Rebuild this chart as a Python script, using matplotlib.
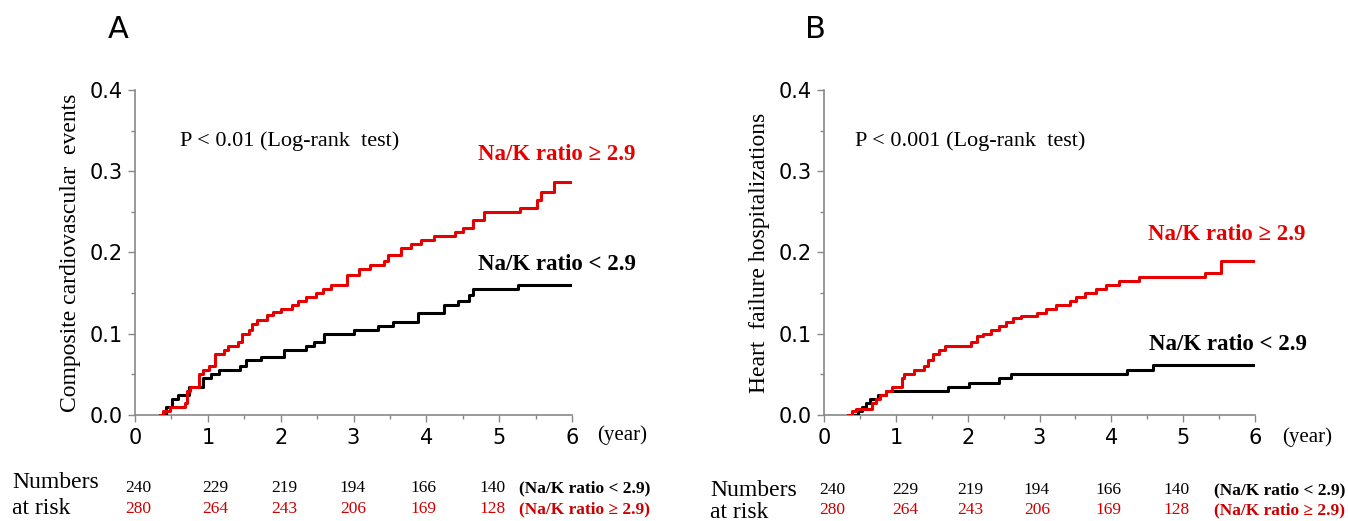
import matplotlib
matplotlib.use("Agg")
import matplotlib.pyplot as plt
from matplotlib.ticker import MultipleLocator

# ---- data ----
a_red_t = [0.34, 0.38, 0.48, 0.68, 0.71, 0.76, 0.88, 0.93, 1.02, 1.10, 1.22, 1.28, 1.41, 1.47, 1.56, 1.61, 1.67,
           1.81, 1.90, 2.00, 2.15, 2.24, 2.35, 2.49, 2.58, 2.69, 2.91, 3.08, 3.23, 3.42, 3.48, 3.65, 3.79, 3.93,
           4.10, 4.39, 4.50, 4.64, 4.79, 5.29, 5.52, 5.58, 5.75, 5.97]
a_red_v = [0.000, 0.005, 0.010, 0.015, 0.030, 0.035, 0.050, 0.055, 0.060, 0.075, 0.080, 0.085, 0.090, 0.100,
           0.105, 0.112, 0.117, 0.123, 0.127, 0.130, 0.135, 0.140, 0.145, 0.150, 0.155, 0.160, 0.172, 0.180,
           0.185, 0.190, 0.197, 0.205, 0.210, 0.215, 0.220, 0.225, 0.230, 0.240, 0.250, 0.255, 0.265, 0.275,
           0.287, 0.287]
a_blk_t = [0.37, 0.42, 0.51, 0.59, 0.74, 0.93, 1.05, 1.16, 1.44, 1.53, 1.73, 2.04, 2.35, 2.46, 2.60, 3.00, 3.34,
           3.54, 3.88, 4.24, 4.44, 4.58, 4.64, 5.26, 5.97]
a_blk_v = [0.000, 0.010, 0.020, 0.025, 0.035, 0.045, 0.050, 0.055, 0.060, 0.068, 0.072, 0.080, 0.085, 0.090,
           0.100, 0.105, 0.110, 0.115, 0.125, 0.135, 0.140, 0.148, 0.155, 0.160, 0.160]

b_red_t = [0.34, 0.39, 0.45, 0.67, 0.72, 0.78, 0.86, 0.95, 1.08, 1.11, 1.25, 1.39, 1.45, 1.52, 1.60, 1.69, 2.05,
           2.13, 2.21, 2.32, 2.43, 2.54, 2.63, 2.74, 2.96, 3.09, 3.23, 3.42, 3.51, 3.64, 3.78, 3.92, 4.11, 4.39,
           5.30, 5.52, 5.98]
b_red_v = [0.000, 0.005, 0.008, 0.015, 0.020, 0.025, 0.030, 0.035, 0.045, 0.050, 0.055, 0.060, 0.068, 0.075,
           0.080, 0.085, 0.090, 0.097, 0.100, 0.105, 0.110, 0.115, 0.120, 0.122, 0.125, 0.130, 0.135, 0.140,
           0.145, 0.150, 0.155, 0.160, 0.165, 0.170, 0.175, 0.190, 0.190]
b_blk_t = [0.42, 0.47, 0.53, 0.58, 0.64, 0.75, 0.86, 1.72, 2.02, 2.43, 2.60, 4.22, 4.58, 5.98]
b_blk_v = [0.000, 0.005, 0.010, 0.015, 0.020, 0.025, 0.030, 0.035, 0.040, 0.045, 0.050, 0.055, 0.062, 0.062]

risk_low = [240, 229, 219, 194, 166, 140]
risk_high = [280, 264, 243, 206, 169, 128]

panel_letters = ["A", "B"]
ylabels = ["Composite cardiovascular  events", "Heart  failure hospitalizations"]
ptexts = ["P < 0.01 (Log-rank  test)", "P < 0.001 (Log-rank  test)"]
label_high = "Na/K ratio \u2265 2.9"
label_low = "Na/K ratio < 2.9"

RED = "#e60000"
W, H = 1348, 521
SERIF = "Liberation Serif"

fig = plt.figure(figsize=(W / 100, H / 100), dpi=100)

def fx(px):
    return px / W

def fy(py):
    return 1 - py / H

axes_px = [(135, 572), (824, 1255)]
top_px, bot_px = 90, 415

panels = [
    (a_red_t, a_red_v, a_blk_t, a_blk_v),
    (b_red_t, b_red_v, b_blk_t, b_blk_v),
]

for i, (l, r) in enumerate(axes_px):
    ax = fig.add_axes([fx(l), fy(bot_px), fx(r - l), (bot_px - top_px) / H])
    rt, rv, bt, bv = panels[i]
    ax.plot(bt, bv, drawstyle="steps-post", color="black", lw=2.2, zorder=3)
    ax.plot(rt, rv, drawstyle="steps-post", color=RED, lw=2.2, zorder=4)
    ax.set_xlim(0, 6)
    ax.set_ylim(0, 0.4)
    ax.xaxis.set_major_locator(MultipleLocator(1))
    ax.xaxis.set_minor_locator(MultipleLocator(0.5))
    ax.yaxis.set_major_locator(MultipleLocator(0.1))
    ax.yaxis.set_minor_locator(MultipleLocator(0.05))
    ax.yaxis.set_major_formatter(matplotlib.ticker.FormatStrFormatter("%.1f"))
    for s in ["top", "right"]:
        ax.spines[s].set_visible(False)
    for s in ["left", "bottom"]:
        ax.spines[s].set_color("#888888")
        ax.spines[s].set_linewidth(1.2)
    ax.tick_params(which="both", direction="out", color="#888888", width=1.0)
    ax.tick_params(which="major", length=5, labelsize=15, pad=4)
    ax.tick_params(which="minor", length=3)
    ax.set_ylabel(ylabels[i], family=SERIF, fontsize=17, labelpad=6)
    ax.patch.set_alpha(0)

fig.text(fx(108), fy(30), "A", fontsize=22, ha="left", va="center")
fig.text(fx(805), fy(30), "B", fontsize=22, ha="left", va="center")

fig.text(fx(180), fy(141), ptexts[0], family=SERIF, fontsize=16, ha="left", va="center")
fig.text(fx(855), fy(141), ptexts[1], family=SERIF, fontsize=16, ha="left", va="center")

fig.text(fx(636), fy(155), label_high, family=SERIF, fontsize=16.5, fontweight="bold", color=RED, ha="right", va="center")
fig.text(fx(636), fy(265), label_low, family=SERIF, fontsize=16.5, fontweight="bold", color="black", ha="right", va="center")
fig.text(fx(1305), fy(235), label_high, family=SERIF, fontsize=16.5, fontweight="bold", color=RED, ha="right", va="center")
fig.text(fx(1307), fy(345), label_low, family=SERIF, fontsize=16.5, fontweight="bold", color="black", ha="right", va="center")

fig.text(fx(597), fy(435), "(year)", family=SERIF, fontsize=15, ha="left", va="center")
fig.text(fx(1282), fy(437), "(year)", family=SERIF, fontsize=15, ha="left", va="center")

# numbers at risk
xa = [138, 215, 284, 353, 423, 493]
xb = [832, 905, 970, 1037, 1108, 1177]
fig.text(fx(12), fy(482), "Numbers", family=SERIF, fontsize=17, ha="left", va="center")
fig.text(fx(12), fy(508), "at risk", family=SERIF, fontsize=17, ha="left", va="center")
fig.text(fx(710), fy(490), "Numbers", family=SERIF, fontsize=17, ha="left", va="center")
fig.text(fx(710), fy(512), "at risk", family=SERIF, fontsize=17, ha="left", va="center")

for xs, y1, y2, x_lab in [(xa, 488, 509, 519), (xb, 490, 510, 1214)]:
    for x, n1, n2 in zip(xs, risk_low, risk_high):
        fig.text(fx(x), fy(y1), str(n1), family=SERIF, fontsize=12.5, ha="center", va="center", color="black")
        fig.text(fx(x), fy(y2), str(n2), family=SERIF, fontsize=12.5, ha="center", va="center", color="#cc0000")
    fig.text(fx(x_lab), fy(y1), "(" + label_low + ")", family=SERIF, fontsize=12.5, fontweight="bold", ha="left", va="center")
    fig.text(fx(x_lab), fy(y2), "(" + label_high + ")", family=SERIF, fontsize=12.5, fontweight="bold", ha="left", va="center", color="#cc0000")

fig.savefig("out.png", dpi=100, facecolor="white")
